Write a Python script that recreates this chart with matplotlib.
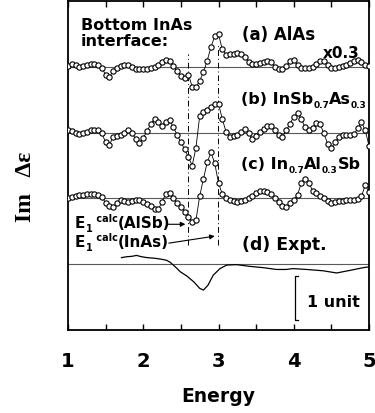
import numpy as np
import matplotlib
matplotlib.use("Agg")
import matplotlib.pyplot as plt

plt.rcParams['font.family'] = 'DejaVu Sans'
plt.rcParams['font.weight'] = 'bold'

# calculated spectra on a 0.05 eV grid (offsets from each baseline, 1 unit = scale bar)
energy = np.linspace(1.0, 5.0, 81)

alas = [0.02, 0.07, 0.05, -0.01, 0.01, 0.04, 0.07, 0.07, 0.04, -0.03,
        -0.18, -0.23, -0.10, -0.02, 0.02, 0.05, 0.04, 0.00, -0.05, -0.05,
        -0.04, -0.04, -0.03, -0.01, 0.03, 0.10, 0.16, 0.14, 0.02, -0.10,
        -0.20, -0.25, -0.18, -0.45, -0.47, -0.32, -0.12, 0.14, 0.45, 0.70,
        0.74, 0.40, 0.28, 0.30, 0.30, 0.32, 0.30, 0.22, 0.12, 0.07,
        0.07, 0.09, 0.12, 0.14, 0.10, 0.00, -0.06, -0.06, 0.02, 0.13,
        0.15, 0.04, -0.03, -0.03, -0.02, 0.00, 0.06, 0.13, 0.13, 0.04,
        -0.02, -0.02, 0.00, 0.02, 0.05, 0.09, 0.14, 0.16, 0.12, 0.05,
        0.02]

insbas = [0.06, 0.04, 0.00, -0.04, -0.02, 0.02, 0.05, 0.06, 0.05, -0.02,
          -0.22, -0.28, -0.10, -0.07, -0.05, 0.00, 0.05, 0.00, -0.15, -0.24,
          -0.12, 0.03, 0.20, 0.31, 0.25, 0.16, 0.25, 0.29, 0.12, -0.05,
          -0.22, -0.38, -0.56, -0.75, -0.35, 0.38, 0.48, 0.52, 0.58, 0.65,
          0.66, 0.31, 0.02, -0.09, -0.08, -0.06, 0.02, 0.09, -0.02, -0.14,
          -0.08, 0.02, 0.08, 0.15, 0.15, 0.05, -0.06, -0.10, 0.05, 0.20,
          0.36, 0.44, 0.32, 0.12, 0.05, 0.10, 0.22, 0.20, -0.02, -0.25,
          -0.35, -0.22, -0.10, -0.06, -0.05, -0.05, -0.04, 0.10, 0.24, 0.05,
          -0.30]

inalsb = [0.00, 0.03, 0.05, 0.07, 0.08, 0.09, 0.10, 0.10, 0.08, 0.03,
          -0.10, -0.18, -0.20, -0.10, -0.03, -0.06, -0.08, -0.06, -0.03, -0.04,
          -0.08, -0.12, -0.18, -0.25, -0.25, -0.08, 0.10, 0.13, 0.00, -0.10,
          -0.20, -0.30, -0.42, -0.53, -0.50, 0.05, 0.45, 0.82, 1.05, 0.80,
          0.35, 0.10, 0.00, -0.03, -0.06, -0.08, -0.07, -0.04, 0.00, 0.06,
          0.12, 0.16, 0.17, 0.14, 0.09, 0.00, -0.08, -0.18, -0.20, -0.10,
          -0.04, 0.08, 0.35, 0.45, 0.35, 0.18, 0.12, 0.05, 0.00, -0.06,
          -0.10, -0.09, -0.06, -0.05, -0.04, -0.03, -0.03, -0.02, 0.05, 0.30,
          0.15]

# experiment (solid line)
expt_energy = [1.71, 1.78, 1.85, 1.91, 1.98, 2.05, 2.12, 2.18, 2.25, 2.31,
               2.36, 2.40, 2.45, 2.49, 2.58, 2.67, 2.75, 2.80, 2.86, 2.93,
               3.02, 3.11, 3.24, 3.42, 3.60, 3.77, 3.90, 3.99, 4.17, 4.39,
               4.57, 4.75, 4.92, 5.00]
expt_signal = [0.15, 0.17, 0.18, 0.20, 0.17, 0.15, 0.14, 0.13, 0.11, 0.09,
               0.04, -0.02, -0.10, -0.17, -0.27, -0.40, -0.55, -0.59, -0.48, -0.25,
               -0.10, -0.02, -0.01, -0.05, -0.08, -0.12, -0.12, -0.10, -0.12, -0.15,
               -0.20, -0.14, -0.08, -0.06]

baselines = [6.0, 4.5, 3.0, 1.5]
e1_alsb = 2.60
e1_inas = 2.99


def chain(ax, x, y, parts, fs, small, gap=0.0):
    # write a label piece by piece: 'n' normal, 'sub' subscript, 'sup' superscript
    prev = None
    for text, kind in parts:
        size = fs if kind == 'n' else small
        dy = {'n': 0, 'sub': -3, 'sup': 4.3}[kind]
        if prev is None:
            t = ax.annotate(text, xy=(x, y), xycoords='data', xytext=(0, dy),
                            textcoords='offset points', fontsize=size, va='baseline')
        else:
            t = ax.annotate(text, xy=(1, y), xycoords=(prev, 'data'), xytext=(gap, dy),
                            textcoords='offset points', fontsize=size, va='baseline')
        prev = t


fig = plt.figure(figsize=(3.75, 4.13), dpi=100)
ax = fig.add_axes([68 / 375, 83 / 413, 301 / 375, 329 / 413])

for b in baselines:
    ax.axhline(b, color='0.35', lw=0.8, zorder=1)

for series, b in zip([alas, insbas, inalsb], baselines[:3]):
    ax.plot(energy, b + np.array(series), '-o', color='black', lw=0.6,
            ms=3.8, mfc='white', mec='black', mew=0.8, zorder=3)

ax.plot(expt_energy, baselines[3] + np.array(expt_signal), color='black', lw=0.9, zorder=3)

# E1 markers
ax.plot([e1_alsb, e1_alsb], [1.93, 6.3], color='black', lw=0.7,
        ls=(0, (6, 3, 1, 3)), zorder=2)
ax.plot([e1_inas, e1_inas], [1.93, 6.5], color='black', lw=0.7,
        ls=(0, (6, 3, 1, 3)), zorder=2)

ax.text(1.17, 6.85, 'Bottom InAs', fontsize=11.5)
ax.text(1.17, 6.48, 'interface:', fontsize=11.5)
ax.text(3.31, 6.61, '(a) AlAs', fontsize=12)
ax.text(4.38, 6.20, 'x0.3', fontsize=11)
chain(ax, 3.30, 5.15, [('(b) InSb', 'n'), ('0.7', 'sub'), ('As', 'n'), ('0.3', 'sub')], 11.5, 6.5)
chain(ax, 3.30, 3.67, [('(c) In', 'n'), ('0.7', 'sub'), ('Al', 'n'), ('0.3', 'sub'), ('Sb', 'n')], 11.5, 6.5)
ax.text(3.31, 1.82, '(d) Expt.', fontsize=12.5)

ax.annotate('', xy=(2.56, 2.41), xytext=(2.31, 2.41),
            arrowprops=dict(arrowstyle='-|>', color='black', lw=0.8,
                            mutation_scale=7, shrinkA=0, shrinkB=0))
ax.annotate('', xy=(2.95, 2.14), xytext=(2.34, 1.98),
            arrowprops=dict(arrowstyle='-|>', color='black', lw=0.8,
                            mutation_scale=7, shrinkA=0, shrinkB=0))
chain(ax, 1.09, 2.32, [('E', 'n'), ('1', 'sub'), (' calc', 'sup'), ('(AlSb)', 'n')], 11, 7, 0.3)
chain(ax, 1.09, 1.89, [('E', 'n'), ('1', 'sub'), (' calc', 'sup'), ('(InAs)', 'n')], 11, 7, 0.3)

# scale bar
ax.plot([4.06, 4.02, 4.02, 4.06], [1.23, 1.23, 0.23, 0.23], color='black', lw=0.9)
ax.text(4.18, 0.53, '1 unit', fontsize=11.5)

ax.set_xlim(1, 5)
ax.set_ylim(0, 7.5)
ax.set_xticks([1, 2, 3, 4, 5])
ax.set_xticks([1.5, 2.5, 3.5, 4.5], minor=True)
ax.set_yticks([])
ax.tick_params(axis='x', which='both', direction='in', top=True, length=4,
               width=1, pad=16, labelsize=14)
for lab in ax.get_xticklabels():
    lab.set_fontweight('bold')
for s in ax.spines.values():
    s.set_linewidth(1.3)

ax.set_xlabel('Energy', fontsize=13.5, fontweight='bold', labelpad=11)
fig.text(0.068, 0.547, 'Im   Δε', rotation=90, ha='center', va='center',
         fontsize=17, family='Liberation Serif', fontweight='bold')

fig.savefig('out.png', dpi=100)
